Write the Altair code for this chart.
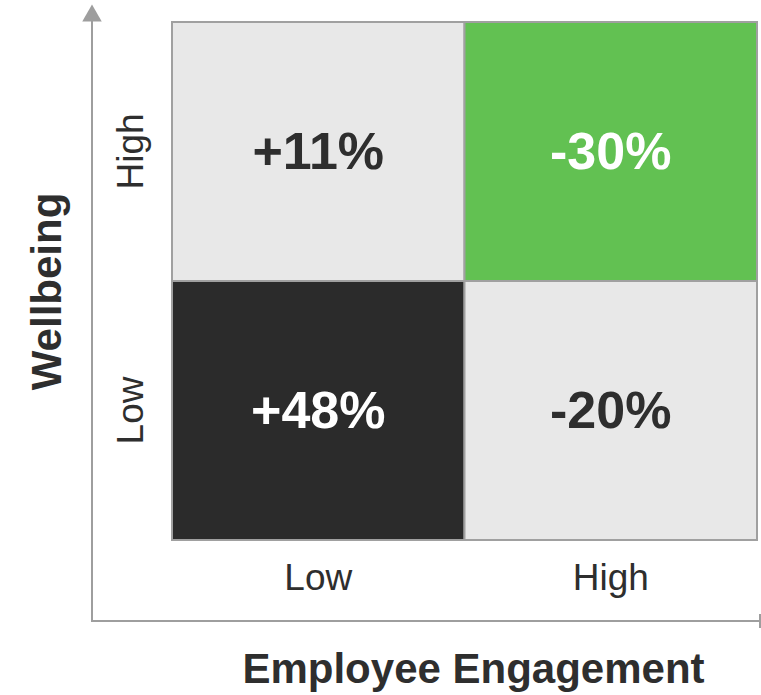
import altair as alt
import pandas as pd

# ---- data ----
engagement = ["Low", "High", "Low", "High"]
wellbeing = ["High", "High", "Low", "Low"]
change = ["+11%", "-30%", "+48%", "-20%"]
tone = ["neutral", "good", "bad", "neutral"]

x_order = ["Low", "High"]
y_order = ["High", "Low"]

df = pd.DataFrame({"engagement": engagement, "wellbeing": wellbeing,
                   "change": change, "tone": tone})

FONT = "Liberation Sans"
AXIS_GRAY = "#9E9E9E"

x_enc = alt.X("engagement:N", sort=x_order,
              scale=alt.Scale(domain=x_order, paddingInner=0, paddingOuter=0),
              axis=alt.Axis(title="Employee Engagement", labelAngle=0, ticks=False,
                            domain=False, labelFontSize=37, labelColor="#2E2E2E",
                            labelFont=FONT, labelPadding=20,
                            titleFont=FONT, titleFontSize=42, titleFontWeight="bold",
                            titleColor="#2E2E2E", titleBaseline="alphabetic",
                            titleX=301, titleY=142, titleAlign="center"))
y_enc = alt.Y("wellbeing:N", sort=y_order,
              scale=alt.Scale(domain=y_order, paddingInner=0, paddingOuter=0),
              axis=alt.Axis(title="Wellbeing", labelAngle=-90, ticks=False,
                            domain=False, labelFontSize=37, labelColor="#2E2E2E",
                            labelFont=FONT, labelPadding=30, labelAlign="center",
                            labelBaseline="alphabetic",
                            titleFont=FONT, titleFontSize=42, titleFontWeight="bold",
                            titleColor="#2E2E2E", titleAngle=-90,
                            titleBaseline="alphabetic", titleAlign="center",
                            titleX=-112, titleY=269))

cells = alt.Chart(df).mark_rect(stroke="#A0A0A0", strokeWidth=2).encode(
    x=x_enc, y=y_enc,
    color=alt.Color("tone:N",
                    scale=alt.Scale(domain=["neutral", "good", "bad"],
                                    range=["#E8E8E8", "#62C152", "#2B2B2B"]),
                    legend=None),
)

texts = alt.Chart(df).mark_text(font=FONT, fontSize=52, fontWeight="bold",
                                baseline="middle", align="center", dy=1).encode(
    x=alt.X("engagement:N", sort=x_order),
    y=alt.Y("wellbeing:N", sort=y_order),
    text="change:N",
    color=alt.condition(alt.datum.tone == "neutral", alt.value("#2E2E2E"), alt.value("white")),
)

one = alt.Data(values=[{"k": 1}])

v_line = alt.Chart(one).mark_rule(color=AXIS_GRAY, strokeWidth=2).encode(
    x=alt.value(-80), y=alt.value(-2), y2=alt.value(600))
h_line = alt.Chart(one).mark_rule(color=AXIS_GRAY, strokeWidth=2).encode(
    x=alt.value(-81), x2=alt.value(588), y=alt.value(599))
end_tick = alt.Chart(one).mark_rule(color=AXIS_GRAY, strokeWidth=2).encode(
    x=alt.value(588), y=alt.value(592), y2=alt.value(606))
arrow = alt.Chart(one).mark_point(shape="triangle-up", filled=True, color=AXIS_GRAY,
                                  size=380, opacity=1).encode(
    x=alt.value(-80), y=alt.value(-9))

chart = alt.layer(cells, texts, v_line, h_line, end_tick, arrow).properties(
    width=585, height=518,
    padding={"left": 172, "top": 22, "right": 4, "bottom": 155},
    autosize=alt.AutoSizeParams(type="none"),
    background="white",
).configure_view(stroke="transparent")

chart.save("out.html", embed_options={"renderer": "svg", "actions": False})
